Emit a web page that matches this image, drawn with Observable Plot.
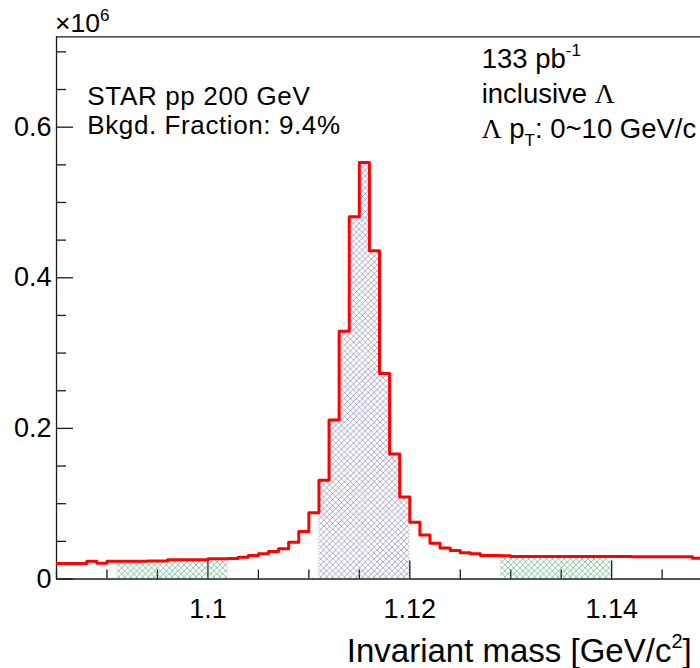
<!DOCTYPE html>
<html><head><meta charset="utf-8">
<script src="https://cdn.jsdelivr.net/npm/d3@7"></script>
<script src="https://cdn.jsdelivr.net/npm/@observablehq/plot@0.6"></script>
<style>
html,body{margin:0;padding:0;background:#fff;}
#chart{width:700px;height:668px;overflow:hidden;}
</style></head><body><div id="chart"></div>
<script>
// ---- data (counts in units of 10^6 per 1 MeV bin) ----
const binStart = 1.085;
const binWidth = 0.001;
const counts = [
  0.0207, 0.0207, 0.0207, 0.0236, 0.0210, 0.0236, 0.0236, 0.0237, 0.0237, 0.0238,
  0.0238, 0.0255, 0.0255, 0.0256, 0.0256, 0.0270, 0.0270, 0.0272, 0.0290, 0.0312,
  0.0334, 0.0364, 0.0403, 0.0487, 0.0630, 0.0880, 0.131, 0.211, 0.329, 0.481,
  0.553, 0.436, 0.273, 0.166, 0.109, 0.0755, 0.0585, 0.0474, 0.0413, 0.0377,
  0.0347, 0.0334, 0.0312, 0.0311, 0.0310, 0.0300, 0.0300, 0.0299, 0.0299, 0.0299,
  0.0298, 0.0298, 0.0298, 0.0298, 0.0298, 0.0298, 0.0298, 0.0297, 0.0297, 0.0297,
  0.0297, 0.0297, 0.0296, 0.0275
];
const signalRange = [1.111, 1.120];
const sidebandLeft = [1.091, 1.102];
const sidebandRight = [1.129, 1.140];
const xTicksMajor = [1.1, 1.12, 1.14];
const xTicksMinor = [1.085, 1.09, 1.095, 1.105, 1.11, 1.115, 1.125, 1.13, 1.135, 1.145];
const yTicksMajor = [0, 0.2, 0.4, 0.6];
const yTicksMinor = [0.05, 0.1, 0.15, 0.25, 0.3, 0.35, 0.45, 0.5, 0.55, 0.65, 0.7];
const xDomain = [1.085, 1.1488];
const yDomain = [0, 0.72];

// ---- layout ----
const W = 700, H = 668;
const mTop = 36.3, mBottom = 89.5, mLeft = 56, mRight = 0;
const plotH = H - mTop - mBottom;
const plotW = W - mLeft - mRight;
const font = "'Liberation Sans', Arial, Helvetica, sans-serif";
const serif = "'Liberation Serif', 'DejaVu Serif', serif";
const axisColor = "#1a1a1a";

const bins = counts.map((c, i) => ({x: binStart + i * binWidth, y: c}));
const stepData = [...bins, {x: binStart + counts.length * binWidth, y: counts[counts.length - 1]}];
function regionData(r) {
  const pts = bins.filter(b => b.x >= r[0] - 1e-9 && b.x < r[1] - 1e-9);
  return [...pts, {x: r[1], y: pts[pts.length - 1].y}];
}

const svg = Plot.plot({
  width: W, height: H,
  marginTop: mTop, marginBottom: mBottom, marginLeft: mLeft, marginRight: mRight,
  x: {domain: xDomain},
  y: {domain: yDomain},
  style: {fontFamily: font, background: "#fff", color: "#000", overflow: "visible"},
  marks: [
    Plot.ruleY([yDomain[0]], {stroke: axisColor, strokeWidth: 1.3}),
    Plot.ruleY([yDomain[1]], {stroke: axisColor, strokeWidth: 1.3}),
    Plot.ruleX([xDomain[0]], {stroke: axisColor, strokeWidth: 1.3}),
    Plot.tickX(xTicksMajor, {x: d => d, insetTop: plotH - 18, stroke: axisColor, strokeWidth: 1.3}),
    Plot.tickX(xTicksMinor, {x: d => d, insetTop: plotH - 9, stroke: axisColor, strokeWidth: 1.3}),
    Plot.tickY(yTicksMajor, {y: d => d, insetRight: plotW - 17, stroke: axisColor, strokeWidth: 1.3}),
    Plot.tickY(yTicksMinor, {y: d => d, insetRight: plotW - 10, stroke: axisColor, strokeWidth: 1.3}),
    Plot.axisX(xTicksMajor, {tickSize: 0, tickPadding: 19.5, fontSize: 27, label: null, tickFormat: d => String(d)}),
    Plot.axisY(yTicksMajor, {tickSize: 0, tickPadding: 5, fontSize: 27, label: null, tickFormat: d => String(d)}),
    Plot.areaY(regionData(sidebandLeft), {x: "x", y: "y", curve: "step-after", fill: "url(#hatchGreen)"}),
    Plot.areaY(regionData(sidebandRight), {x: "x", y: "y", curve: "step-after", fill: "url(#hatchGreen)"}),
    Plot.areaY(regionData(signalRange), {x: "x", y: "y", curve: "step-after", fill: "url(#hatchBlue)"}),
    Plot.lineY(stepData, {x: "x", y: "y", curve: "step-after", stroke: "#ff0000", strokeWidth: 3, clip: true})
  ]
});

const s = d3.select(svg);
const defs = s.insert("defs", ":first-child");
function hatch(id, color, w) {
  const p = defs.append("pattern").attr("id", id)
    .attr("patternUnits", "userSpaceOnUse").attr("width", 4.2).attr("height", 4.2)
    .attr("patternTransform", "rotate(45)");
  p.append("path").attr("d", "M0,0H4.2M0,0V4.2").attr("stroke", color).attr("stroke-width", w).attr("fill", "none");
}
hatch("hatchBlue", "#8080b4", 1.0);
hatch("hatchGreen", "#45a36b", 0.95);

function addText(x, y, size, parts, anchor, spacing) {
  const t = s.append("text").attr("x", x).attr("y", y).attr("font-size", size)
    .attr("font-family", font).attr("text-anchor", anchor || "start").attr("fill", "#000");
  if (spacing) t.attr("letter-spacing", spacing);
  for (const p of parts) {
    const ts = t.append("tspan").text(p.t);
    if (p.dy) ts.attr("dy", p.dy);
    if (p.size) ts.attr("font-size", p.size);
    if (p.fam) ts.attr("font-family", p.fam);
  }
}
addText(55, 31.7, 26.5, [{t: "×10"}, {t: "6", size: 17, dy: -11}]);
addText(87.3, 104.5, 26, [{t: "STAR pp 200 GeV"}], "start", 0.65);
addText(87.3, 134, 26, [{t: "Bkgd. Fraction: 9.4%"}], "start", 0.6);
addText(481.7, 68.3, 27.5, [{t: "133 pb"}, {t: "-1", size: 17, dy: -12}]);
addText(481.7, 103.3, 27.5, [{t: "inclusive "}, {t: "Λ", fam: serif}]);
addText(481.7, 138.3, 27.5, [{t: "Λ", fam: serif}, {t: " p"}, {t: "T", size: 17, dy: 8}, {t: ": 0~10 GeV/c", dy: -8}]);
addText(691.7, 661.7, 33, [{t: "Invariant mass [GeV/c"}, {t: "2", size: 20, dy: -14}, {t: "]", dy: 14}], "end");

document.getElementById("chart").appendChild(svg);
</script></body></html>
